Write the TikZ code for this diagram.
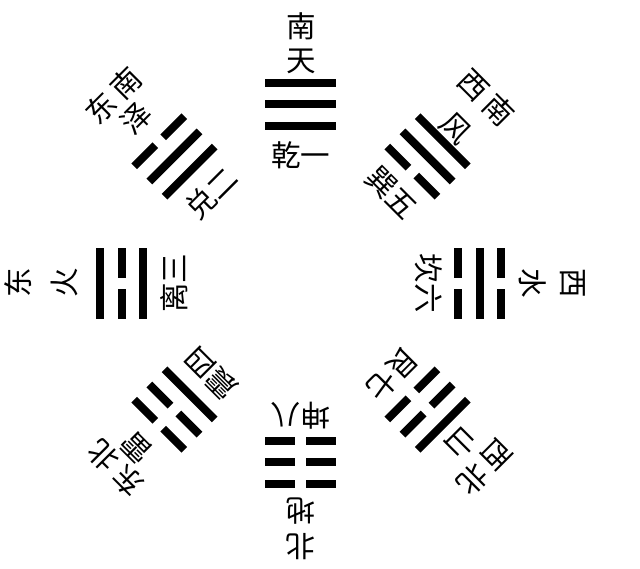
\documentclass[tikz,border=0pt]{standalone}
\usepackage{fontspec}
\usepackage{tikz}
\newfontfamily\cjk{Noto Sans CJK SC}

\begin{document}
\begin{tikzpicture}[
			x = 0.025cm, y = 0.025cm,
			zi/.style = {font=\cjk\fontsize{21}{21}\selectfont, inner sep=0pt, transform shape},
			yao/.style = {fill=black}
			]

			\useasboundingbox (-301,-285) rectangle (339,283);

			% qian (south, top)
			\begin{scope}[rotate=0]
				\node[zi] (nan) at (0,257) {南};
				\node[zi] (tian) at (0,222) {天};
				\fill[yao] (-35.5,196.5) rectangle (35.5,204.5);
				\fill[yao] (-35.5,175) rectangle (35.5,183);
				\fill[yao] (-35.5,153.5) rectangle (35.5,161.5);
				\node[zi] (qian) at (0,128) {乾一};
			\end{scope}

			% xun (southwest)
			\begin{scope}[rotate=-45]
				\node[zi] (xinan) at (0,262) {西\hspace{4pt}南};
				\node[zi] (feng) at (0,218) {风};
				\fill[yao] (-35.5,196.5) rectangle (35.5,204.5);
				\fill[yao] (-35.5,175) rectangle (35.5,183);
				\fill[yao] (-35.5,153.5) rectangle (-5.5,161.5);
				\fill[yao] (5.5,153.5) rectangle (35.5,161.5);
				\node[zi] (xun) at (0,128) {巽五};
			\end{scope}

			% kan (west, right)
			\begin{scope}[rotate=-90]
				\node[zi] (xi) at (0,272) {西};
				\node[zi] (shui) at (0,232) {水};
				\fill[yao] (-35.5,196.5) rectangle (-5.5,204.5);
				\fill[yao] (5.5,196.5) rectangle (35.5,204.5);
				\fill[yao] (-35.5,175) rectangle (35.5,183);
				\fill[yao] (-35.5,153.5) rectangle (-5.5,161.5);
				\fill[yao] (5.5,153.5) rectangle (35.5,161.5);
				\node[zi] (kan) at (0,128) {坎六};
			\end{scope}

			% gen (northwest)
			\begin{scope}[rotate=-135]
				\node[zi] (xibei) at (0,260) {西\hspace{4pt}北};
				\node[zi] (shan) at (0,226) {山};
				\fill[yao] (-35.5,196.5) rectangle (35.5,204.5);
				\fill[yao] (-35.5,175) rectangle (-5.5,183);
				\fill[yao] (5.5,175) rectangle (35.5,183);
				\fill[yao] (-35.5,153.5) rectangle (-5.5,161.5);
				\fill[yao] (5.5,153.5) rectangle (35.5,161.5);
				\node[zi] (gen) at (0,129) {艮七};
			\end{scope}

			% kun (north, bottom)
			\begin{scope}[rotate=180]
				\node[zi] (bei) at (0,264) {北};
				\node[zi] (di) at (0,228) {地};
				\fill[yao] (-35.5,196.5) rectangle (-5.5,204.5);
				\fill[yao] (5.5,196.5) rectangle (35.5,204.5);
				\fill[yao] (-35.5,175) rectangle (-5.5,183);
				\fill[yao] (5.5,175) rectangle (35.5,183);
				\fill[yao] (-35.5,153.5) rectangle (-5.5,161.5);
				\fill[yao] (5.5,153.5) rectangle (35.5,161.5);
				\node[zi] (kun) at (0,133) {坤八};
			\end{scope}

			% zhen (northeast)
			\begin{scope}[rotate=135]
				\node[zi] (dongbei) at (0,262) {东\hspace{4pt}北};
				\node[zi] (lei) at (0,233) {雷};
				\fill[yao] (-35.5,196.5) rectangle (-5.5,204.5);
				\fill[yao] (5.5,196.5) rectangle (35.5,204.5);
				\fill[yao] (-35.5,175) rectangle (-5.5,183);
				\fill[yao] (5.5,175) rectangle (35.5,183);
				\fill[yao] (-35.5,153.5) rectangle (35.5,161.5);
				\node[zi] (zhen) at (0,127) {震四};
			\end{scope}

			% li (east, left)
			\begin{scope}[rotate=90]
				\node[zi] (dong) at (0,283) {东};
				\node[zi] (huo) at (0,237) {火};
				\fill[yao] (-35.5,196.5) rectangle (35.5,204.5);
				\fill[yao] (-35.5,175) rectangle (-5.5,183);
				\fill[yao] (5.5,175) rectangle (35.5,183);
				\fill[yao] (-35.5,153.5) rectangle (35.5,161.5);
				\node[zi] (li) at (0,127) {离三};
			\end{scope}

			% dui (southeast)
			\begin{scope}[rotate=45]
				\node[zi] (dongnan) at (0,265) {东\hspace{4pt}南};
				\node[zi] (ze) at (0,233) {泽};
				\fill[yao] (-35.5,196.5) rectangle (-5.5,204.5);
				\fill[yao] (5.5,196.5) rectangle (35.5,204.5);
				\fill[yao] (-35.5,175) rectangle (35.5,183);
				\fill[yao] (-35.5,153.5) rectangle (35.5,161.5);
				\node[zi] (dui) at (0,127) {兑二};
			\end{scope}

		\end{tikzpicture}
\end{document}
